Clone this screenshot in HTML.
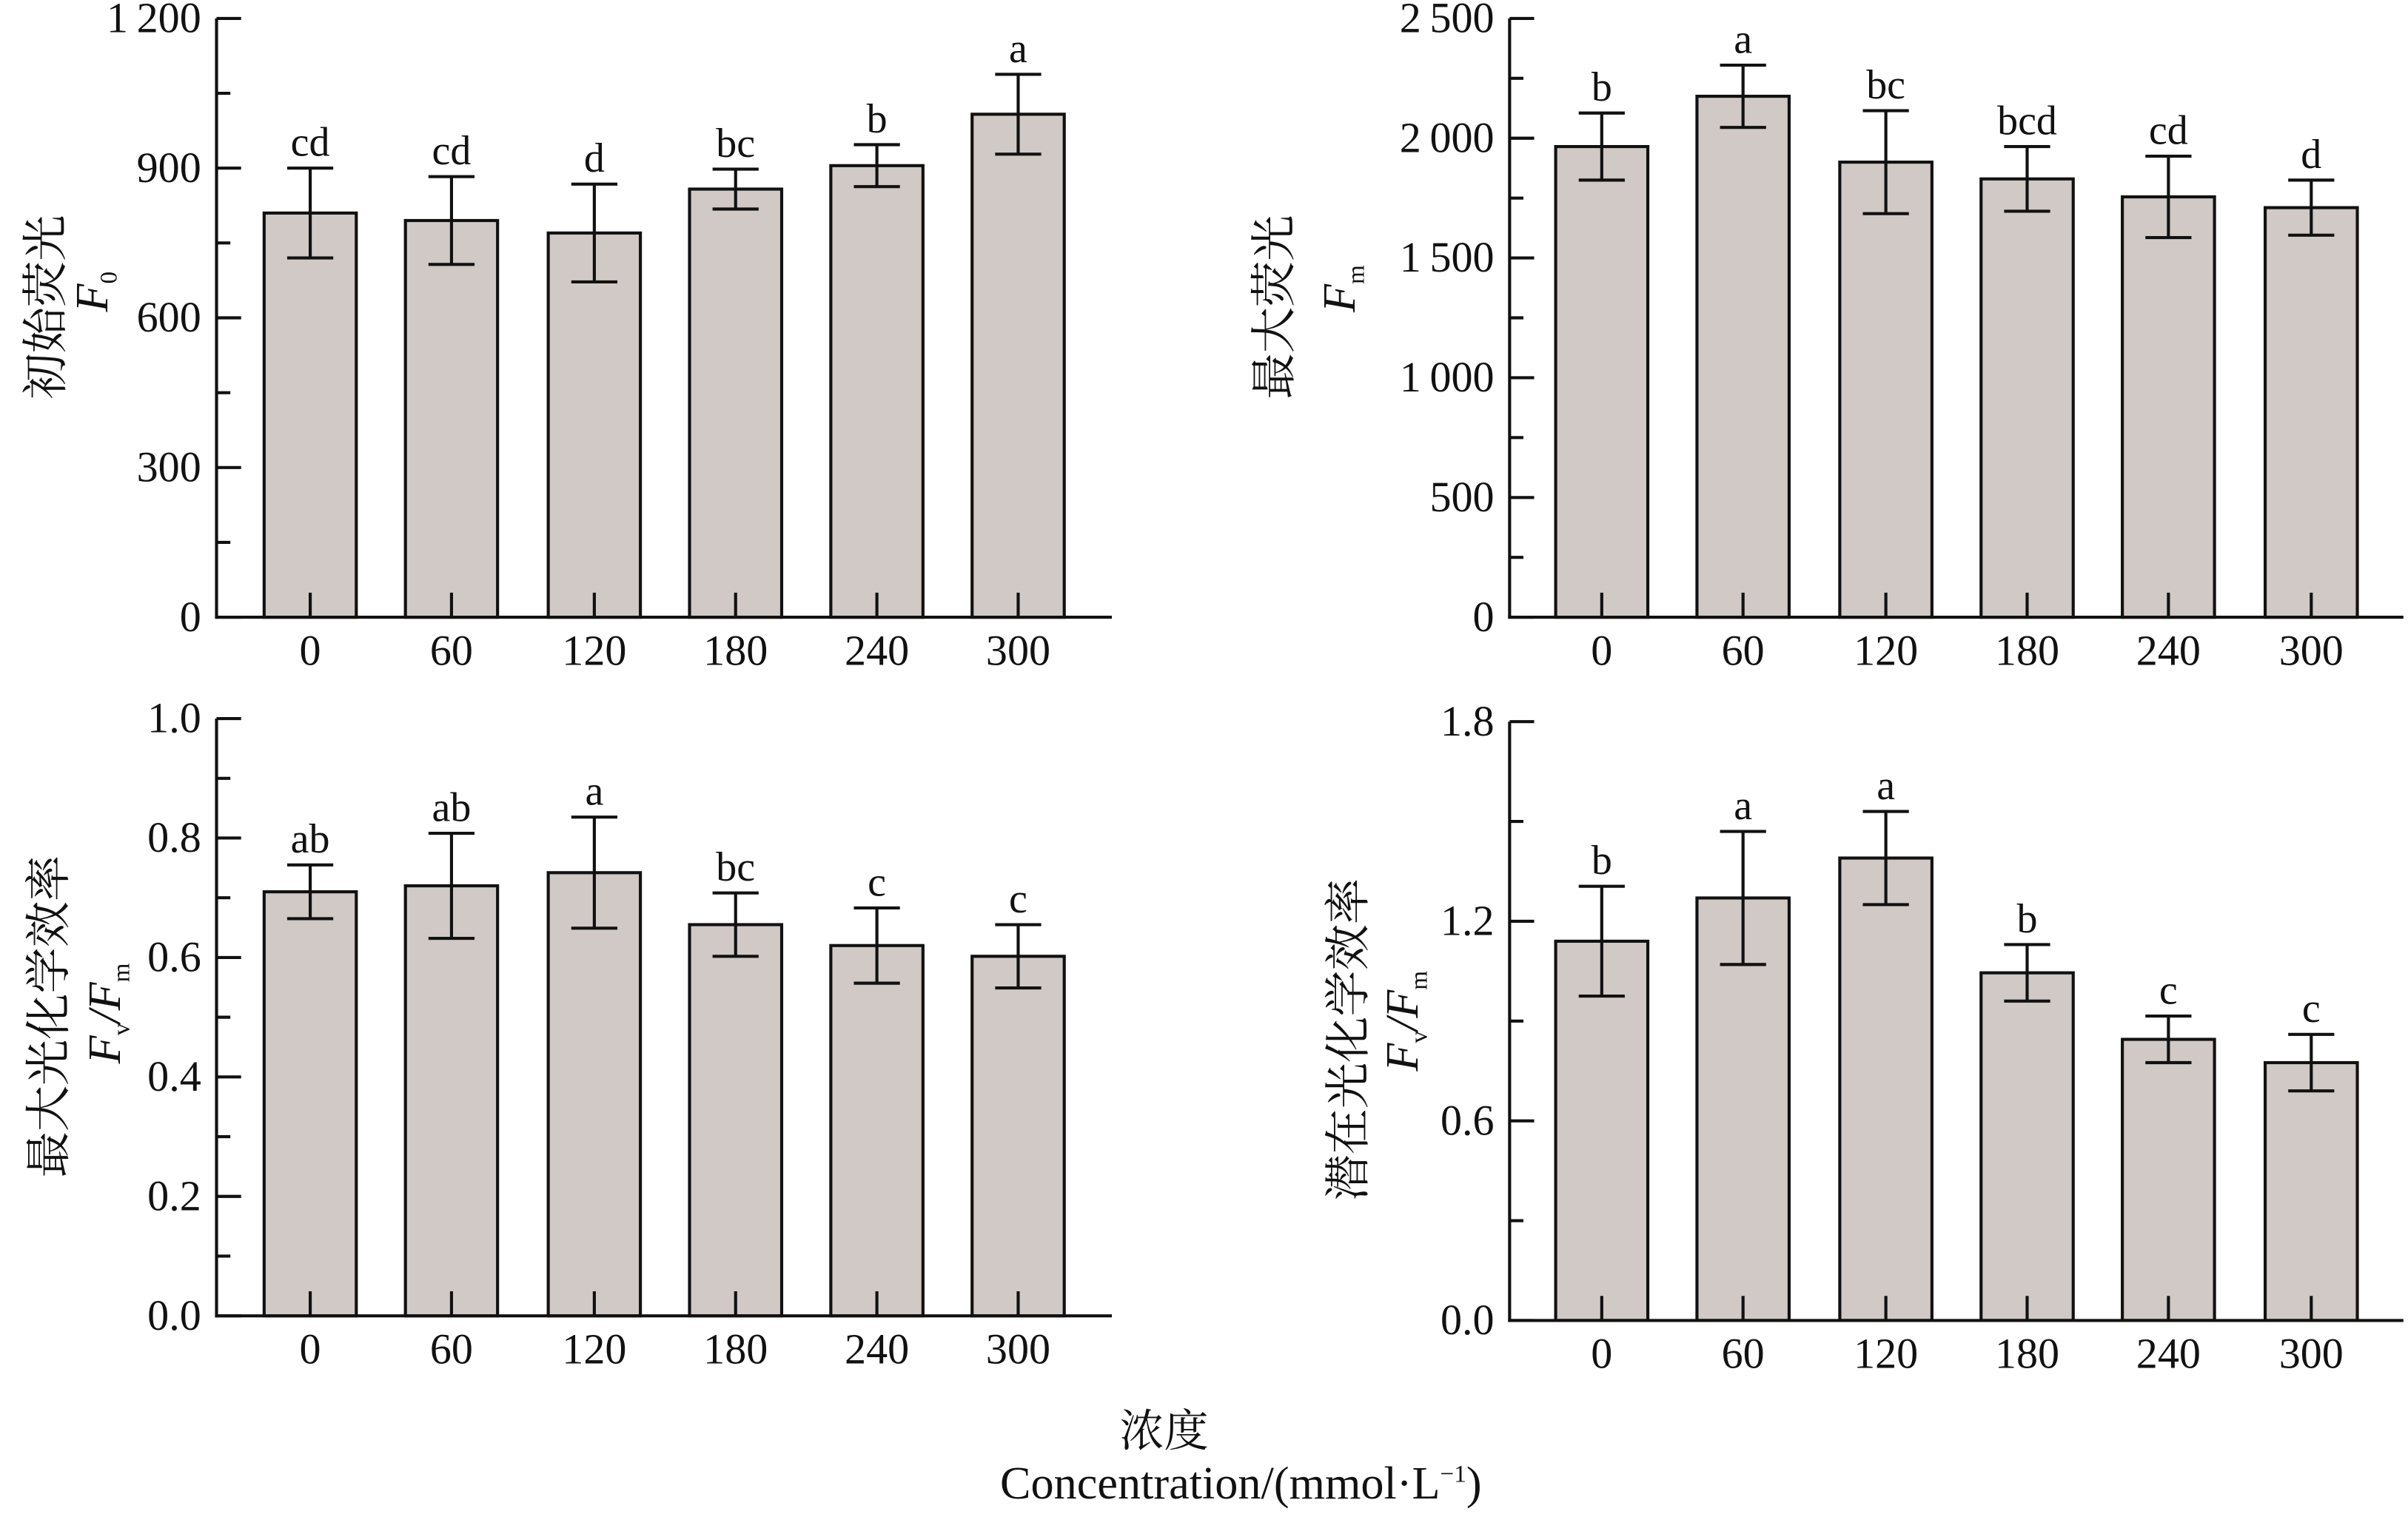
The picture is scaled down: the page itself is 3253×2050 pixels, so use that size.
<!DOCTYPE html>
<html><head><meta charset="utf-8"><style>
html,body{margin:0;padding:0;background:#fff;}
svg{display:block;}
text{font-family:"Liberation Serif","Noto Serif CJK SC",serif;fill:#111;}
</style></head><body>
<svg width="3253" height="2050" viewBox="0 0 1568 988" preserveAspectRatio="none" xmlns="http://www.w3.org/2000/svg">
<g id="root" stroke-linecap="butt"></g>
<text x="758" y="942" font-size="29" text-anchor="middle">浓度</text>
<text x="808" y="976" font-size="30" text-anchor="middle">Concentration/(mmol·L<tspan font-size="16" dy="-11">−1</tspan><tspan dy="11">)</tspan></text>
<g font-size="30">
<text transform="translate(40,200) rotate(-90)" text-anchor="middle">初始荧光</text>
<text transform="translate(70,190) rotate(-90)" text-anchor="middle" font-style="italic">F<tspan font-style="normal" font-size="16" dy="6">0</tspan></text>
<text transform="translate(840,200) rotate(-90)" text-anchor="middle">最大荧光</text>
<text transform="translate(882,188) rotate(-90)" text-anchor="middle" font-style="italic">F<tspan font-style="normal" font-size="16" dy="6">m</tspan></text>
<text transform="translate(42,662) rotate(-90)" text-anchor="middle">最大光化学效率</text>
<text transform="translate(78,660) rotate(-90)" text-anchor="middle" font-style="italic">F<tspan font-style="normal" font-size="16" dy="6">v</tspan><tspan dy="-6">/F</tspan><tspan font-style="normal" font-size="16" dy="6">m</tspan></text>
<text transform="translate(888,677) rotate(-90)" text-anchor="middle">潜在光化学效率</text>
<text transform="translate(923,665) rotate(-90)" text-anchor="middle" font-style="italic">F<tspan font-style="normal" font-size="16" dy="6">v</tspan><tspan dy="-6">/F</tspan><tspan font-style="normal" font-size="16" dy="6">m</tspan></text>
</g>
</svg>
<script>
const NS="http://www.w3.org/2000/svg";
const root=document.getElementById('root');
function el(t,a,txt){const e=document.createElementNS(NS,t);for(const k in a)e.setAttribute(k,a[k]);if(txt!==undefined)e.textContent=txt;root.appendChild(e);return e;}
function panel(p){
  const {ax,top,bot,xend,max,labels,minor,centers,vals,errs,lets,fmt}=p;
  const Y=v=>bot-(v/max)*(bot-top);
  for(let i=0;i<6;i++){
    const c=centers[i],y=Y(vals[i]);
    el('rect',{x:c-30,y:y,width:60,height:bot-y,fill:'#d0c9c6',stroke:'#111','stroke-width':2});
    el('line',{x1:c,x2:c,y1:bot,y2:bot-16,stroke:'#111','stroke-width':2});
    const yt=Y(vals[i]+errs[i]),yb=Y(vals[i]-errs[i]);
    el('line',{x1:c,x2:c,y1:yt,y2:yb,stroke:'#111','stroke-width':2});
    el('line',{x1:c-15,x2:c+15,y1:yt,y2:yt,stroke:'#111','stroke-width':2});
    el('line',{x1:c-15,x2:c+15,y1:yb,y2:yb,stroke:'#111','stroke-width':2});
    el('text',{x:c,y:yt-8,'font-size':27,'text-anchor':'middle'},lets[i]);
    el('text',{x:c,y:bot+31,'font-size':28,'text-anchor':'middle'},[0,60,120,180,240,300][i]);
  }
  el('line',{x1:ax,x2:ax,y1:top,y2:bot+1,stroke:'#111','stroke-width':2});
  el('line',{x1:ax-1,x2:xend,y1:bot,y2:bot,stroke:'#111','stroke-width':2});
  labels.forEach(v=>{const y=Y(v);el('line',{x1:ax,x2:ax+16,y1:y,y2:y,stroke:'#111','stroke-width':2});
    el('text',{x:ax-10,y:y+9,'font-size':28,'text-anchor':'end'},fmt(v));});
  minor.forEach(v=>{const y=Y(v);el('line',{x1:ax,x2:ax+9,y1:y,y2:y,stroke:'#111','stroke-width':2});});
}
const sp=v=>{const s=String(v);return s.length>3?s.slice(0,-3)+'\u2009'+s.slice(-3):s;};
const cL=[202,294,387,479,571,663],cR=[1043,1135,1228,1320,1412,1505];
panel({ax:141,top:12,bot:402,xend:724,max:1200,labels:[0,300,600,900,1200],minor:[150,450,750,1050],centers:cL,
 vals:[810,795,770,858,905,1008],errs:[90,88,98,40,42,80],lets:['cd','cd','d','bc','b','a'],fmt:sp});
panel({ax:983,top:12,bot:402,xend:1565,max:2500,labels:[0,500,1000,1500,2000,2500],minor:[250,750,1250,1750,2250],centers:cR,
 vals:[1965,2175,1900,1830,1755,1710],errs:[140,130,215,135,170,115],lets:['b','a','bc','bcd','cd','d'],fmt:sp});
panel({ax:141,top:468,bot:857,xend:724,max:1.0,labels:[0,0.2,0.4,0.6,0.8,1.0],minor:[0.1,0.3,0.5,0.7,0.9],centers:cL,
 vals:[0.71,0.72,0.742,0.655,0.62,0.602],errs:[0.045,0.088,0.093,0.053,0.063,0.053],lets:['ab','ab','a','bc','c','c'],fmt:v=>v.toFixed(1)});
panel({ax:983,top:470,bot:860,xend:1565,max:1.8,labels:[0,0.6,1.2,1.8],minor:[0.3,0.9,1.5],centers:cR,
 vals:[1.14,1.27,1.39,1.045,0.845,0.775],errs:[0.165,0.2,0.14,0.085,0.07,0.085],lets:['b','a','a','b','c','c'],fmt:v=>v.toFixed(1)});
</script>
</body></html>
